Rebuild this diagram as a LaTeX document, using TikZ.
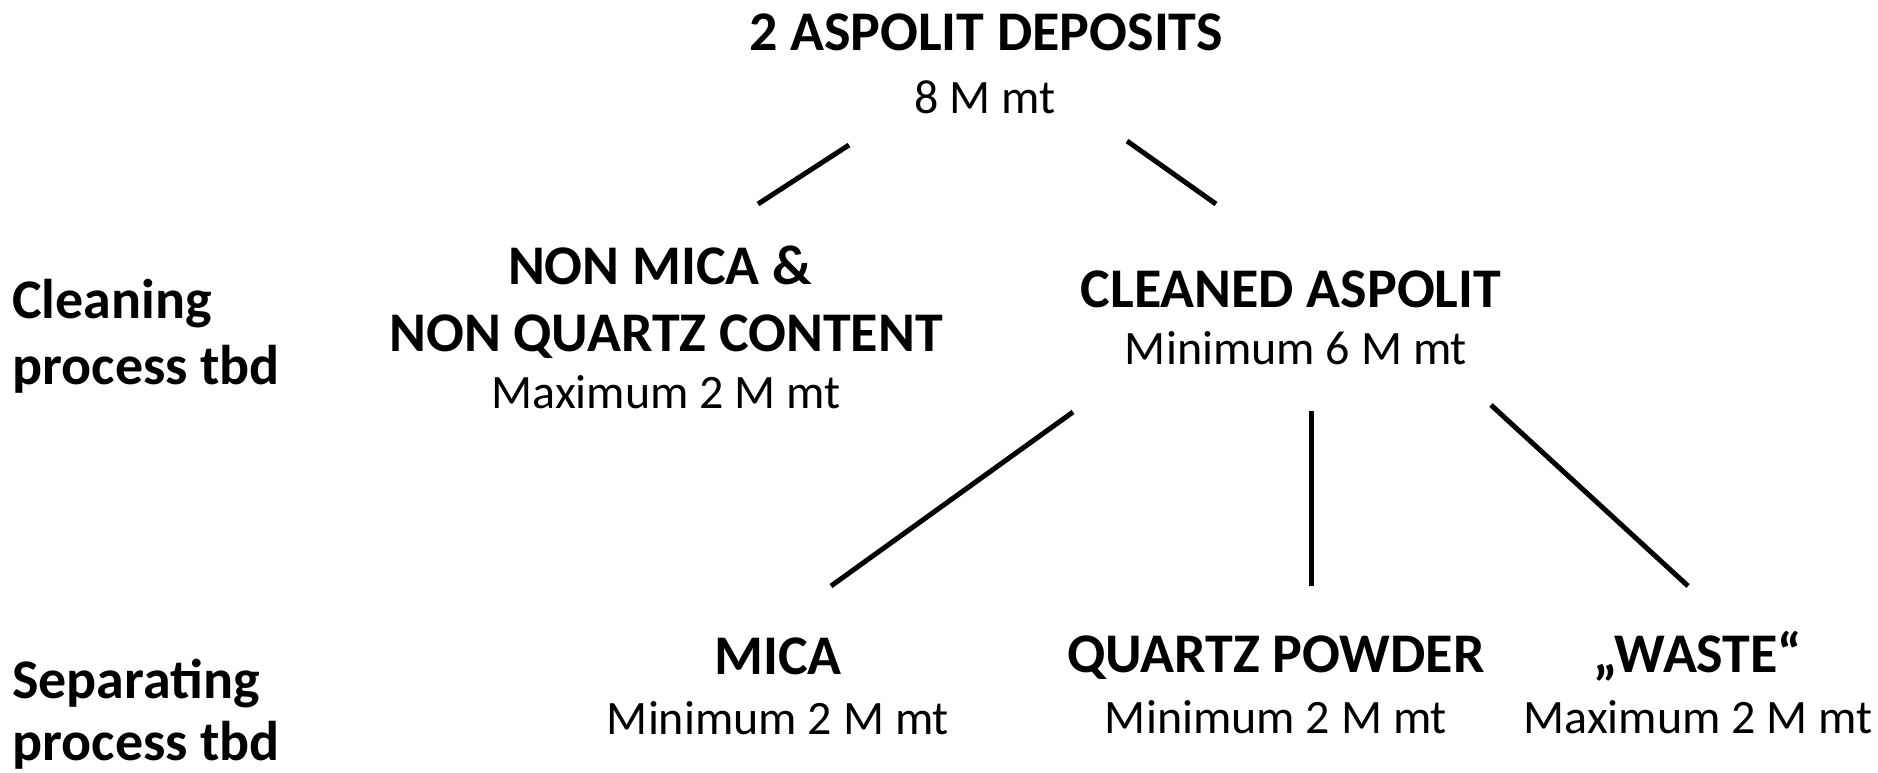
\documentclass[tikz,border=0pt]{standalone}
\usepackage{fontspec}
\setmainfont{Carlito}
\begin{document}
\begin{tikzpicture}[x=1pt,y=1pt,
  bigtxt/.style={anchor=base,inner sep=0pt,font=\fontsize{56}{67}\selectfont\bfseries},
  smalltxt/.style={anchor=base,inner sep=0pt,font=\fontsize{48}{58}\selectfont},
  sidetxt/.style={anchor=base west,inner sep=0pt,font=\fontsize{56}{67}\selectfont\bfseries},
  conn/.style={line width=5pt}]
\useasboundingbox (0,0) rectangle (1878,-772);
% top
\node[bigtxt] (root) at (986,-50) {2 ASPOLIT DEPOSITS};
\node[smalltxt] (rootq) at (985,-113) {8 M mt};
% level 1
\node[bigtxt] (nm1) at (660,-284) {NON MICA \&};
\node[bigtxt] (nm2) at (666,-351) {NON QUARTZ CONTENT};
\node[smalltxt] (nmq) at (666,-408) {Maximum 2 M mt};
\node[bigtxt] (cl) at (1291,-307) {CLEANED ASPOLIT};
\node[smalltxt] (clq) at (1296,-364) {Minimum 6 M mt};
% level 2
\node[bigtxt] (mica) at (778,-674) {MICA};
\node[smalltxt] (micaq) at (778,-734) {Minimum 2 M mt};
\node[bigtxt] (qp) at (1276,-672) {QUARTZ POWDER};
\node[smalltxt] (qpq) at (1276,-733) {Minimum 2 M mt};
\node[bigtxt] (waste) at (1698,-672) {„WASTE“};
\node[smalltxt] (wasteq) at (1698,-733) {Maximum 2 M mt};
% side labels
\node[sidetxt] (c1) at (12,-318) {Cleaning};
\node[sidetxt] (c2) at (12,-384) {process tbd};
\node[sidetxt] (s1) at (12,-698) {Separating};
\node[sidetxt] (s2) at (12,-760) {process tbd};
% connector ends
\coordinate (a1) at (849,-145);
\coordinate (a2) at (758,-204);
\coordinate (b1) at (1127,-141);
\coordinate (b2) at (1216,-204);
\coordinate (c1s) at (1073,-412);
\coordinate (c1e) at (831,-586);
\coordinate (c2s) at (1311,-411);
\coordinate (c2e) at (1311,-586);
\coordinate (c3s) at (1491,-405);
\coordinate (c3e) at (1688,-586);
\draw[conn] (a1) -- (a2);
\draw[conn] (b1) -- (b2);
\draw[conn] (c1s) -- (c1e);
\draw[conn] (c2s) -- (c2e);
\draw[conn] (c3s) -- (c3e);
\end{tikzpicture}
\end{document}
